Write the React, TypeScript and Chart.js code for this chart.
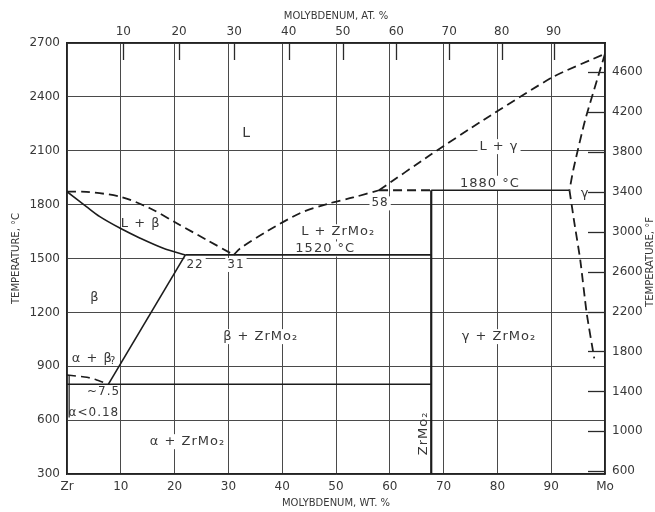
import React, { useEffect, useRef } from 'react';
import { Chart, registerables } from 'chart.js';

Chart.register(...registerables);

// ---- data ----
const ZR_MASS = 91.224;
const MO_MASS = 95.95;
const wtPercentTicks = [0, 10, 20, 30, 40, 50, 60, 70, 80, 90, 100];
const atPercentTicks = [10, 20, 30, 40, 50, 60, 70, 80, 90];
const celsiusTicks = [300, 600, 900, 1200, 1500, 1800, 2100, 2400, 2700];
const fahrenheitTicks = [600, 1000, 1400, 1800, 2200, 2600, 3000, 3400, 3800, 4200, 4600];

// phase boundaries: [wt% Mo, °C]
const liquidusZrSide = [[0, 1872], [3.6, 1871], [9.9, 1844], [15.4, 1780], [20.4, 1696], [26, 1603], [31, 1520]];
const solidusBeta = [[0, 1872], [3.6, 1789], [6.1, 1733], [9.9, 1668], [13.6, 1613], [17.9, 1557], [22, 1520]];
const eutecticLine = [[22, 1520], [67.7, 1520]];
const betaSolvus = [[22, 1520], [7.7, 800]];
const eutectoidLine = [[0, 800], [67.7, 800]];
const alphaBetaBoundary = [[0, 851], [3.7, 839], [5.5, 824], [7.7, 800]];
const alphaSolvus = [[0.4, 851], [0.4, 615]];
const liquidusZrMo2 = [[31, 1520], [32.2, 1557], [37.1, 1650], [43.3, 1752], [48.5, 1805], [53.2, 1840], [58, 1880]];
const peritecticDashed = [[58, 1880], [67.7, 1880]];
const peritecticSolid = [[67.7, 1880], [93.4, 1880]];
const liquidusMo = [[58, 1880], [67.5, 2076], [77.4, 2271], [90.4, 2512], [100, 2640]];
const solidusGamma = [[100, 2640], [96.3, 2270], [94.1, 1993], [93.4, 1880]];
const solvusGamma = [[93.4, 1880], [94.3, 1700], [95.4, 1492], [96.6, 1195], [98, 944]];
const zrMo2Line = [[67.7, 300], [67.7, 1880]];

// region / point labels: text, wt%, °C
const labelTexts = ['L', 'L + β', '22', '31', 'β', 'L + ZrMo₂', '1520 °C', '58', 'L + γ', '1880 °C', 'γ',
  'β + ZrMo₂', 'γ + ZrMo₂', 'α + β', '?', '~7.5', 'α<0.18', 'α + ZrMo₂', 'ZrMo₂'];
const labelWt = [33.4, 13.7, 23.8, 31.4, 5.2, 50.4, 48, 58.2, 80.3, 78.6, 96.3, 36, 80.3, 4.7, 8.6, 6.8, 5.0, 22.4, 66.2];
const labelC = [2197, 1696, 1464, 1464, 1280, 1649, 1553, 1807, 2123, 1919, 1863, 1065, 1065, 944, 925, 760, 640, 480, 526];

const atToWt = (a: number) => (a * MO_MASS) / (a * MO_MASS + (100 - a) * ZR_MASS) * 100;
const cToF = (c: number) => c * 9 / 5 + 32;

const FONT = '"DejaVu Sans", "Liberation Sans", sans-serif';
const INK = '#1c1c1c';
const TEXT = '#383838';

const labelSize: Record<string, number> = { 'L': 14, 'L + β': 13, '22': 12, '31': 12, '58': 12, 'β': 13, '?': 10, '~7.5': 12, 'α<0.18': 12 };
const whiteBg = new Set(['L + ZrMo₂', '1520 °C', '58', 'L + γ', '1880 °C', 'β + ZrMo₂', 'γ + ZrMo₂', 'α + ZrMo₂', 'γ', '22', '31']);

function lineDs(pts: number[][], dashed: boolean, width = 1.8, tension = 0) {
  return {
    data: pts.map(([x, y]) => ({ x, y })),
    showLine: true,
    borderColor: INK,
    borderWidth: width,
    borderDash: dashed ? [9, 5] : [],
    pointRadius: 0,
    pointHoverRadius: 0,
    fill: false,
    tension,
  };
}

const labelsPlugin = {
  id: 'phaseLabels',
  beforeDatasetsDraw(chart: any) {
    const { ctx, scales } = chart;
    const x = scales.x, y = scales.y;
    ctx.save();
    labelTexts.forEach((t, i) => {
      const px = x.getPixelForValue(labelWt[i]);
      const py = y.getPixelForValue(labelC[i]);
      const size = labelSize[t] || 13;
      ctx.font = `${size}px ${FONT}`;
      (ctx as any).letterSpacing = '1px';
      ctx.textAlign = 'center';
      ctx.textBaseline = 'middle';
      const w = ctx.measureText(t).width;
      ctx.save();
      ctx.translate(px, py);
      if (t === 'ZrMo₂') ctx.rotate(-Math.PI / 2);
      if (whiteBg.has(t)) {
        ctx.fillStyle = '#ffffff';
        ctx.fillRect(-w / 2 - 2, -size / 2 - 1, w + 4, size + 2);
      }
      ctx.fillStyle = TEXT;
      ctx.fillText(t, 0, 0);
      ctx.restore();
    });
    (ctx as any).letterSpacing = '0px';
    ctx.restore();
  },
  afterDraw(chart: any) {
    const { ctx, scales, chartArea } = chart;
    ctx.save();
    ctx.strokeStyle = '#2a2a2a';
    ctx.lineWidth = 1.3;
    // inward tick marks for atomic percent (top)
    atPercentTicks.forEach((a) => {
      const px = Math.round(scales.x2.getPixelForValue(atToWt(a))) + 0.5;
      ctx.beginPath();
      ctx.moveTo(px, chartArea.top);
      ctx.lineTo(px, chartArea.top + 17);
      ctx.stroke();
    });
    // inward tick marks for °F (right)
    fahrenheitTicks.forEach((f) => {
      const py = Math.round(scales.y2.getPixelForValue(f)) + 0.5;
      ctx.beginPath();
      ctx.moveTo(chartArea.right - 17, py);
      ctx.lineTo(chartArea.right, py);
      ctx.stroke();
    });
    // right axis title
    ctx.fillStyle = TEXT;
    ctx.font = `10px ${FONT}`;
    ctx.textAlign = 'center';
    ctx.textBaseline = 'middle';
    ctx.translate(650, 262);
    ctx.rotate(-Math.PI / 2);
    ctx.fillText('TEMPERATURE, °F', 0, 0);
    ctx.restore();
  },
};

export default function App() {
  const canvasRef = useRef<HTMLCanvasElement | null>(null);

  useEffect(() => {
    const canvas = canvasRef.current;
    if (!canvas) return;
    const tickFont = { family: FONT, size: 12 };
    const titleFont = { family: FONT, size: 10 };
    const plain = (v: any) => String(v);
    const chart = new Chart(canvas, {
      type: 'scatter',
      data: {
        datasets: [
          lineDs(liquidusZrSide, true, 1.8, 0.3),
          lineDs(solidusBeta, false, 1.6, 0.3),
          lineDs(eutecticLine, false, 1.6),
          lineDs(betaSolvus, false, 1.6),
          lineDs(eutectoidLine, false, 1.4),
          lineDs(alphaBetaBoundary, true, 1.6, 0.2),
          lineDs(alphaSolvus, false, 1.2),
          lineDs(liquidusZrMo2, true, 1.8, 0.3),
          lineDs(peritecticDashed, true, 1.8),
          lineDs(peritecticSolid, false, 1.6),
          lineDs(liquidusMo, true, 1.8, 0.2),
          lineDs(solidusGamma, true, 1.8, 0.2),
          lineDs(solvusGamma, true, 1.8, 0.2),
          lineDs(zrMo2Line, false, 2.2),
        ] as any,
      },
      options: {
        responsive: false,
        animation: false,
        events: [],
        layout: { padding: 0 },
        plugins: { legend: { display: false }, tooltip: { enabled: false } },
        scales: {
          x: {
            type: 'linear',
            position: 'bottom',
            min: 0,
            max: 100,
            afterBuildTicks: (s: any) => { s.ticks = wtPercentTicks.map((v) => ({ value: v })); },
            afterFit: (s: any) => { s.height = 38; },
            ticks: {
              font: tickFont,
              color: TEXT,
              padding: 6,
              maxRotation: 0,
              autoSkip: false,
              callback: (v: any) => (v === 0 ? 'Zr' : v === 100 ? 'Mo' : String(v)),
            },
            grid: { color: '#4a4a4a', lineWidth: 1, drawTicks: false },
            border: { color: '#222', width: 1.5 },
            title: { display: true, text: 'MOLYBDENUM, WT. %', font: titleFont, color: TEXT, padding: { top: 0, bottom: 3 } },
          },
          x2: {
            type: 'linear',
            position: 'top',
            min: 0,
            max: 100,
            afterBuildTicks: (s: any) => { s.ticks = atPercentTicks.map((a) => ({ value: atToWt(a) })); },
            afterFit: (s: any) => { s.height = 43; },
            ticks: {
              font: tickFont,
              color: TEXT,
              padding: 4,
              maxRotation: 0,
              autoSkip: false,
              callback: (_v: any, i: number) => String(atPercentTicks[i]),
            },
            grid: { drawOnChartArea: false, drawTicks: false },
            border: { color: '#222', width: 1.5 },
            title: { display: true, text: 'MOLYBDENUM, AT. %', font: titleFont, color: TEXT, padding: { top: 10, bottom: 0 } },
          },
          y: {
            type: 'linear',
            position: 'left',
            min: 300,
            max: 2700,
            afterBuildTicks: (s: any) => { s.ticks = celsiusTicks.map((v) => ({ value: v })); },
            afterFit: (s: any) => { s.width = 67; },
            ticks: { font: tickFont, color: TEXT, padding: 7, autoSkip: false, callback: plain },
            grid: { color: '#4a4a4a', lineWidth: 1, drawTicks: false },
            border: { color: '#222', width: 1.5 },
            title: { display: true, text: 'TEMPERATURE, °C', font: titleFont, color: TEXT, padding: { top: 10, bottom: 0 } },
          },
          y2: {
            type: 'linear',
            position: 'right',
            min: cToF(300),
            max: cToF(2700),
            afterBuildTicks: (s: any) => { s.ticks = fahrenheitTicks.map((v) => ({ value: v })); },
            afterFit: (s: any) => { s.width = 50; },
            ticks: { font: tickFont, color: TEXT, padding: 7, autoSkip: false, callback: plain },
            grid: { drawOnChartArea: false, drawTicks: false },
            border: { color: '#222', width: 1.5 },
          },
        },
      } as any,
      plugins: [labelsPlugin],
    });
    return () => chart.destroy();
  }, []);

  return (
    <div style={{ position: 'absolute', left: 0, top: 0, width: 655, height: 512, background: '#fff' }}>
      <canvas ref={canvasRef} width={655} height={512} />
    </div>
  );
}
